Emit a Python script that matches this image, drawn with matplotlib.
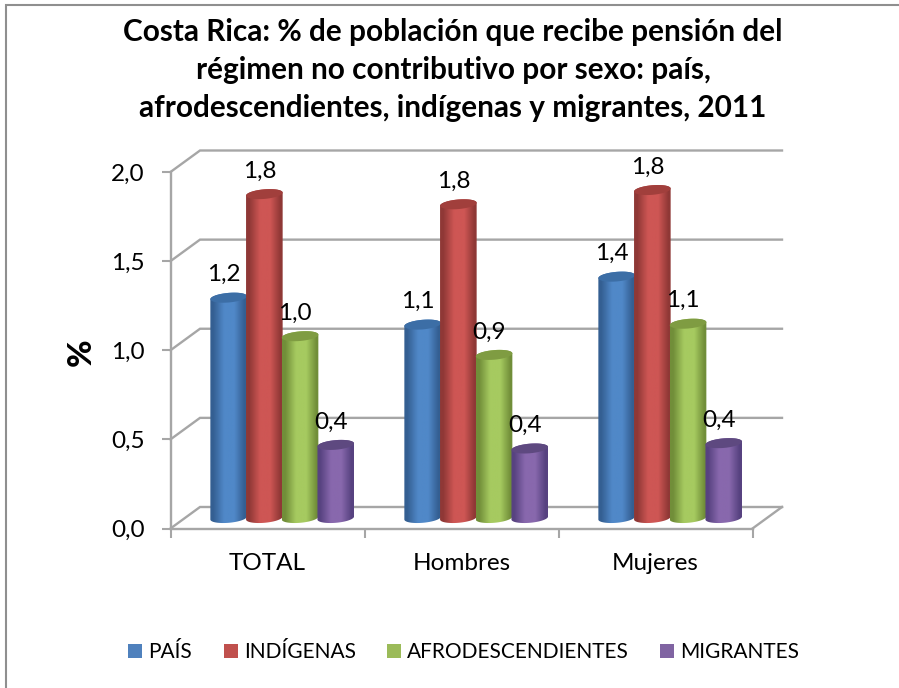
import numpy as np
import matplotlib
matplotlib.use("Agg")
import matplotlib.pyplot as plt
from matplotlib.colors import LinearSegmentedColormap
from matplotlib.patches import PathPatch, Rectangle, Polygon
from matplotlib.path import Path
from matplotlib.lines import Line2D

plt.rcParams['font.family'] = ['Lato', 'DejaVu Sans']

# ---- data ----
categories = ["TOTAL", "Hombres", "Mujeres"]
pais = [1.236, 1.085, 1.354]
indigenas = [1.817, 1.76, 1.84]
afro = [1.02, 0.915, 1.09]
migrantes = [0.41, 0.39, 0.42]
series_names = ["PAÍS", "INDÍGENAS", "AFRODESCENDIENTES", "MIGRANTES"]
yticks = [0.0, 0.5, 1.0, 1.5, 2.0]
title = ("Costa Rica: % de población que recibe pensión del\n"
         "régimen no contributivo por sexo: país,\n"
         "afrodescendientes, indígenas y migrantes, 2011")

# ---- styles ----
W, H = 899, 688
legend_cols = ["#4f81bd", "#c0504d", "#9bbb59", "#8064a2"]
edge_cols = ["#345f92", "#8f3836", "#718e39", "#574280"]
mid_cols = ["#5088c8", "#ce5654", "#a6ca60", "#8868ad"]
top_cols = ["#3c6ea6", "#a13f3c", "#7f9c42", "#5e4980"]
GRID = "#a6a6a6"

fig = plt.figure(figsize=(W / 100, H / 100), dpi=100, facecolor="white")
L, R, T, B = 170.5, 752.5, 172, 528.5
ax = fig.add_axes([L / W, 1 - B / H, (R - L) / W, (B - T) / H])
ax.set_xlim(0, 3)
ax.set_ylim(0, 2)
ax.patch.set_alpha(0)
px = 3 / (R - L)       # data units per pixel, x
py = 2 / (B - T)       # data units per pixel, y

# chart frame: only the top and left edges show in the reference
fig.add_artist(Line2D([5.5 / W, 5.5 / W, 1], [0, 1 - 4.5 / H, 1 - 4.5 / H], transform=fig.transFigure,
                      color="#8f8f8f", lw=1.5, solid_joinstyle="miter"))

# walls
back_dx, back_dy = 29.5 * px, 21.5 * py
for v in yticks:
    ax.plot([0, back_dx, 3 + back_dx], [v, v + back_dy, v + back_dy], color=GRID, lw=1.7,
            clip_on=False, zorder=1, solid_joinstyle="miter")
ax.plot([3, 3 + back_dx], [0, back_dy], color=GRID, lw=1.7, clip_on=False, zorder=1)

for s in ("top", "right"):
    ax.spines[s].set_visible(False)
for s in ("left", "bottom"):
    ax.spines[s].set_color(GRID)
    ax.spines[s].set_linewidth(1.7)
ax.set_xticks([0, 1, 2, 3])
ax.set_xticklabels([])
ax.set_xticks([0.5, 1.5, 2.5], minor=True)
ax.set_xticklabels(categories, minor=True, fontsize=17.5, color="black")
ax.tick_params(axis="x", which="major", length=6.5, width=1.5, color=GRID)
ax.tick_params(axis="x", which="minor", length=0, pad=18)
ax.set_yticks(yticks)
ax.set_yticklabels([f"{v:.1f}".replace(".", ",") for v in yticks], fontsize=17.5, color="black")
ax.tick_params(axis="y", length=6.5, width=1.5, color=GRID, pad=12)

# cylinders
bar_step = 35.7 * px
rx = 36.6 * px / 2
ry = 4.8 * py
tilt = 1.5 * py
base_dx, base_dy = 14.7 * px, 10.5 * py
t = np.linspace(0, np.pi, 41)
z = [0]


def cylinder(xc, value, i):
    y_top = value + base_dy
    y_bot = base_dy
    xs = xc + rx * np.cos(t)
    low = y_bot - ry * np.sin(t) + tilt * np.cos(t)
    up = y_top + tilt * np.cos(t)
    verts = np.concatenate([
        np.column_stack([xs, low]),
        np.column_stack([xs[::-1], up[::-1] + ry * np.sin(t[::-1])]),
    ])
    verts = np.vstack([verts, verts[0]])
    patch = PathPatch(Path(verts), transform=ax.transData, fc="none", ec="none")
    ax.add_patch(patch)
    cmap = LinearSegmentedColormap.from_list(
        "c", [(0, edge_cols[i]), (0.08, edge_cols[i]), (0.38, mid_cols[i]), (0.66, mid_cols[i]),
              (0.94, edge_cols[i]), (1, edge_cols[i])])
    im = ax.imshow(np.linspace(0, 1, 64).reshape(1, -1), cmap=cmap, aspect="auto",
                   extent=[xc - rx, xc + rx, y_bot - 2 * ry, y_top + 2 * ry], zorder=2 + 0.01 * z[0])
    im.set_clip_path(patch)
    top = np.column_stack([xc + rx * np.cos(2 * t), y_top + ry * np.sin(2 * t) + tilt * np.cos(2 * t)])
    ax.add_patch(Polygon(top, closed=True, fc=top_cols[i], ec="none", zorder=2.001 + 0.01 * z[0]))
    z[0] += 1
    ax.annotate(f"{value:.1f}".replace(".", ","), (xc, y_top), xytext=(-5, 23),
                textcoords="offset pixels", ha="center", va="center", fontsize=17.5, zorder=10,
                annotation_clip=False)


for c in range(len(categories)):
    for i, vals in enumerate([pais, indigenas, afro, migrantes]):
        xc = c + 0.5 + (i - 1.5) * bar_step + base_dx
        cylinder(xc, vals[c], i)

ax.set_xlim(0, 3)
ax.set_ylim(0, 2)

ax.set_ylabel("%", fontsize=24, fontweight="black", labelpad=0)
ax.yaxis.set_label_coords((96 - L) / (R - L), (B - 352) / (B - T))

fig.text(453 / W, 1 - 70 / H, title, ha="center", va="center", fontsize=21.4, fontweight="bold",
         linespacing=1.42)

handles = [Rectangle((0, 0), 1, 1, fc=c, ec="none") for c in legend_cols]
fig.legend(handles, series_names, ncol=4, loc="center", bbox_to_anchor=(464 / W, 1 - 652 / H),
           frameon=False, fontsize=15, handlelength=0.67, handleheight=0.67, handletextpad=0.3,
           columnspacing=1.5, borderpad=0)

fig.savefig("out.png", dpi=100)
